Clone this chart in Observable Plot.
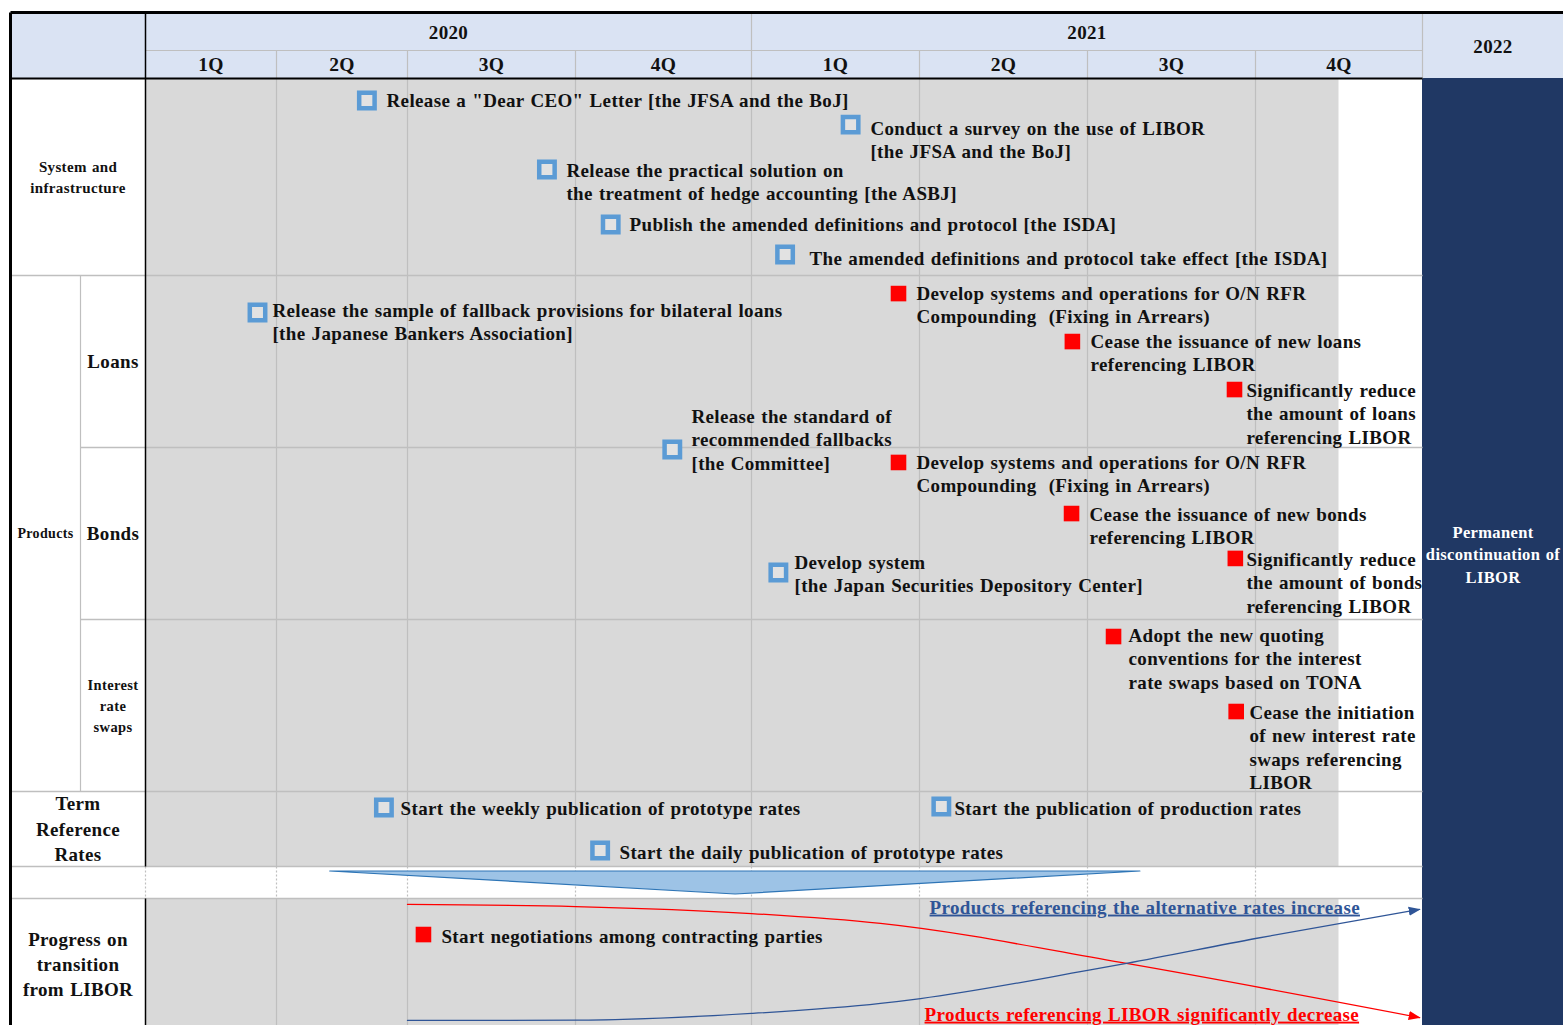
<!DOCTYPE html>
<html><head><meta charset="utf-8">
<script src="https://cdn.jsdelivr.net/npm/d3@7"></script>
<script src="https://cdn.jsdelivr.net/npm/@observablehq/plot@0.6"></script>
<style>
html,body{margin:0;padding:0;background:#fff;overflow:hidden}
#chart svg text{letter-spacing:0.35px;word-spacing:1px}
</style>
</head><body><div id="chart"></div>
<script>
// ---------------- DATA ----------------
const years = ["2020", "2021", "2022"];
const yearStartQ = [0, 4, 8];
const yearEndQ = [4, 8, 9];
const quarterLabels = ["1Q", "2Q", "3Q", "4Q", "1Q", "2Q", "3Q", "4Q"];

const rowLabels = ["System and\ninfrastructure", "Products", "Loans", "Bonds", "Interest\nrate\nswaps", "Term\nReference\nRates", "Progress on\ntransition\nfrom LIBOR"];
const finalLabel = "Permanent\ndiscontinuation of\nLIBOR";
const shadeEnd = 7.5; // shading runs to mid 4Q 2021

// events: time in quarters since 2020Q1, row position in table-row units
const eventLabels = [
  'Release a "Dear CEO" Letter [the JFSA and the BoJ]',
  "Conduct a survey on the use of LIBOR\n[the JFSA and the BoJ]",
  "Release the practical solution on\nthe treatment of hedge accounting [the ASBJ]",
  "Publish the amended definitions and protocol [the ISDA]",
  "The amended definitions and protocol take effect [the ISDA]",
  "Release the sample of fallback provisions for bilateral loans\n[the Japanese Bankers Association]",
  "Develop systems and operations for O/N RFR\nCompounding\u00a0 (Fixing in Arrears)",
  "Cease the issuance of new loans\nreferencing LIBOR",
  "Significantly reduce\nthe amount of loans\nreferencing LIBOR",
  "Release the standard of\nrecommended fallbacks\n[the Committee]",
  "Develop systems and operations for O/N RFR\nCompounding\u00a0 (Fixing in Arrears)",
  "Cease the issuance of new bonds\nreferencing LIBOR",
  "Significantly reduce\nthe amount of bonds\nreferencing LIBOR",
  "Develop system\n[the Japan Securities Depository Center]",
  "Adopt the new quoting\nconventions for the interest\nrate swaps based on TONA",
  "Cease the initiation\nof new interest rate\nswaps referencing\nLIBOR",
  "Start the weekly publication of prototype rates",
  "Start the publication of production rates",
  "Start the daily publication of prototype rates",
  "Start negotiations among contracting parties"
];
const eventSector = ["official","official","official","official","official","official","market","market","market","official","market","market","market","official","market","market","official","official","official","market"];
const eventTime  = [1.69, 4.59, 2.83, 3.20, 4.20, 0.855, 4.875, 5.91, 6.875, 3.55, 4.875, 5.905, 6.88, 4.16, 6.155, 6.885, 1.82, 5.13, 3.14, 2.095];
const eventRow   = [2.112, 2.234, 2.462, 2.741, 2.893, 3.215, 3.105, 3.384, 3.663, 4.012, 4.087, 4.384, 4.645, 4.727, 5.099, 5.535, 6.213, 6.200, 6.787, 8.273];
const labelTime  = [1.840, 4.708, 2.946, 3.307, 4.345, 0.969, 4.982, 6.018, 6.946, 3.659, 4.982, 6.012, 6.946, 4.256, 6.244, 6.964, 1.947, 5.208, 3.250, 2.202];
const labelRow   = [2.112, 2.254, 2.467, 2.741, 2.914, 3.203, 3.105, 3.384, 3.669, 3.820, 4.087, 4.390, 4.651, 4.669, 5.093, 5.541, 6.227, 6.227, 6.813, 8.288];

// transition curves
const liborTime = [2, 3, 4, 4.768, 6.232, 7.982];
const liborRow  = [8.045, 8.061, 8.114, 8.189, 8.492, 8.902];
const rfrTime   = [2, 3, 4, 4.768, 5.006, 6, 6.232, 7, 7.982];
const rfrRow    = [8.924, 8.922, 8.871, 8.795, 8.758, 8.545, 8.492, 8.303, 8.083];
const curveLabels = ["Products referencing the alternative rates increase", "Products referencing LIBOR significantly decrease"];
const curveLabelTime = [5.06, 5.03];
const curveLabelRow = [8.068, 8.879];

// funnel arrow (from term reference rates to transition)
const funnelTime = [1.41, 3.91, 6.315];
const funnelBottom = [7.156, 7.875, 7.156];
const funnelTop = [7.156, 7.156, 7.156];

// ---------------- LAYOUT ----------------
const X_DOMAIN = [-1, -0.5, 0, 1, 2, 3, 4, 5, 6, 7, 8, 9];
const X_RANGE  = [10, 80, 145, 276, 407, 575, 751, 919, 1087, 1255, 1422, 1563];
const Y_DOMAIN = [0, 1, 2, 3, 4, 5, 6, 7, 8, 9];
const Y_RANGE  = [12, 50, 78, 275, 447, 619, 791, 866, 898, 1030];
const xs = d3.scaleLinear(X_DOMAIN, X_RANGE);
const ys = d3.scaleLinear(Y_DOMAIN, Y_RANGE);
const mx = (a, b) => xs.invert((xs(a) + xs(b)) / 2);
const my = (a, b) => ys.invert((ys(a) + ys(b)) / 2);

const FONT = "'Liberation Serif', 'Times New Roman', serif";
const C = {header: "#dae3f3", shade: "#d9d9d9", navy: "#203864", grid: "#bfbfbf", blue: "#5b9bd5", red: "#ff0000", ink: "#111111", curveBlue: "#2f5597", funnel: "#9dc3e6", funnelEdge: "#2e75b6"};

// label cell spans [x1,x2,y1,y2,fontSize,lineHeight]
const rowLabelCells = [[-1,0,2,3,15,1.4],[-1,-0.5,3,6,14,1.3],[-0.5,0,3,4,19,1.3],[-0.5,0,4,5,19,1.3],[-0.5,0,5,6,14.5,1.45],[-1,0,6,7,19,1.32],[-1,0,8,9,19,1.32]];

const events = eventLabels.map((label, i) => ({label, sector: eventSector[i], t: eventTime[i], r: eventRow[i], lt: labelTime[i], lr: labelRow[i]}));
const libor = liborTime.map((t, i) => ({t, r: liborRow[i]}));
const rfr = rfrTime.map((t, i) => ({t, r: rfrRow[i]}));
const funnel = funnelTime.map((t, i) => ({t, top: funnelTop[i], bottom: funnelBottom[i]}));
const yearCells = years.map((name, i) => ({name, x: mx(yearStartQ[i], yearEndQ[i]), y: yearEndQ[i] - yearStartQ[i] > 1 ? my(0, 1) : my(0, 2)}));
const quarterCells = quarterLabels.map((name, i) => ({name, x: mx(i, i + 1), y: my(1, 2)}));
const rowLabelData = rowLabels.map((name, i) => {
  const [x1, x2, y1, y2, fs, lh] = rowLabelCells[i];
  return {name, x: mx(x1, x2), y: my(y1, y2), fs, lh};
});
const curveLabelData = curveLabels.map((name, i) => ({name, x: curveLabelTime[i], y: curveLabelRow[i], color: i === 0 ? C.curveBlue : C.red}));
const finalData = [{name: finalLabel, x: mx(8, 9), y: my(2, 9)}];

// table structure: cells and rules as {x1,x2,y1,y2}
const R = (x1, x2, y1, y2) => ({x1, x2, y1, y2});
const headerFill = [R(-1, 9, 0, 2)];
const shadeFill = [R(0, shadeEnd, 2, 7), R(0, shadeEnd, 8, 9)];
const navyFill = [R(8, 9, 2, 9)];
const vHeader = [1, 2, 3, 5, 6, 7].map(q => R(q, q, 1, 2)).concat([R(4, 4, 0, 2), R(8, 8, 0, 2)]);
const hHeader = [R(0, 8, 1, 1)];
const vBody = d3.range(1, 8).flatMap(q => [R(q, q, 2, 7), R(q, q, 8, 9)]).concat([R(-0.5, -0.5, 3, 6)]);
const vDotted = d3.range(0, 8).map(q => R(q, q, 7, 8));
const hBody = [R(-1, 8, 3, 3), R(-0.5, 8, 4, 4), R(-0.5, 8, 5, 5), R(-1, 8, 6, 6), R(-1, 8, 7, 7), R(-1, 8, 8, 8)];
const blackThin = [R(0, 0, 0, 7), R(0, 0, 8, 9)];
const blackH = [R(-1, 8, 2, 2)];
const blackThick = [R(-1, -1, 0, 9), R(-1, 9, 0, 0)];

const SVGNS = "http://www.w3.org/2000/svg";
function headMarker(color) {
  const m = document.createElementNS(SVGNS, "marker");
  m.setAttribute("viewBox", "0 -5 10 10");
  m.setAttribute("refX", "9");
  m.setAttribute("refY", "0");
  m.setAttribute("markerWidth", "12");
  m.setAttribute("markerHeight", "12");
  m.setAttribute("markerUnits", "userSpaceOnUse");
  m.setAttribute("orient", "auto");
  const p = document.createElementNS(SVGNS, "path");
  p.setAttribute("d", "M0,-3.8L10,0L0,3.8Z");
  p.setAttribute("fill", color);
  p.setAttribute("stroke", "none");
  m.appendChild(p);
  return m;
}

const seg = (data, opts) => Plot.link(data, {x1: "x1", x2: "x2", y1: "y1", y2: "y2", ...opts});
const box = (data, opts) => Plot.rect(data, {x1: "x1", x2: "x2", y1: "y1", y2: "y2", ...opts});

function build(markerEnd) {
  const tb = {fontFamily: FONT, fontWeight: "bold"};
  return Plot.plot({
    width: 1563, height: 1025,
    marginTop: 0, marginRight: 0, marginBottom: 0, marginLeft: 0,
    style: {background: "#ffffff", overflow: "hidden"},
    x: {type: "linear", domain: X_DOMAIN, range: X_RANGE, axis: null},
    y: {type: "linear", domain: Y_DOMAIN, range: Y_RANGE, axis: null},
    marks: [
      box(headerFill, {fill: C.header}),
      box(shadeFill, {fill: C.shade}),
      box(navyFill, {fill: C.navy}),
      seg(vHeader, {stroke: C.grid, strokeWidth: 1.2}),
      seg(hHeader, {stroke: C.grid, strokeWidth: 1.2}),
      seg(vBody, {stroke: C.grid, strokeWidth: 1.2}),
      seg(vDotted, {stroke: C.grid, strokeWidth: 1.2, strokeDasharray: "2,2"}),
      seg(hBody, {stroke: C.grid, strokeWidth: 1.5}),
      seg(blackThin, {stroke: "#000", strokeWidth: 1.5}),
      seg(blackH, {stroke: "#000", strokeWidth: 1.8}),
      seg(blackThick, {stroke: "#000", strokeWidth: 3}),
      // funnel arrow
      Plot.areaY(funnel, {x: "t", y1: "top", y2: "bottom", fill: C.funnel, stroke: C.funnelEdge, strokeWidth: 1.2}),
      // transition curves
      Plot.line(libor, {x: "t", y: "r", stroke: C.red, strokeWidth: 1.3, curve: "monotone-x", markerEnd: markerEnd(C.red)}),
      Plot.line(rfr, {x: "t", y: "r", stroke: C.curveBlue, strokeWidth: 1.3, curve: "monotone-x", markerEnd: markerEnd(C.curveBlue)}),
      // event markers
      Plot.dot(events.filter(d => d.sector === "official"), {x: "t", y: "r", symbol: "square", r: 8.7, fill: "#e2e2e2", stroke: C.blue, strokeWidth: 4.5}),
      Plot.dot(events.filter(d => d.sector === "market"), {x: "t", y: "r", symbol: "square", r: 8.8, fill: C.red}),
      // event labels
      Plot.text(events, {x: "lt", y: "lr", text: "label", textAnchor: "start", lineAnchor: "top", dy: -10.5, fontSize: 19, lineHeight: 1.24, fill: C.ink, ...tb}),
      // curve labels
      Plot.text(curveLabelData, {x: "x", y: "y", text: "name", textAnchor: "start", fontSize: 19, fill: "color", ...tb}),
      // header labels
      Plot.text(yearCells, {x: "x", y: "y", text: "name", dy: 1.5, fontSize: 19, fill: C.ink, ...tb}),
      Plot.text(quarterCells, {x: "x", y: "y", text: "name", dy: 0.5, fontSize: 19.5, fill: C.ink, ...tb}),
      // row labels
      ...rowLabelData.map(d => Plot.text([d], {x: "x", y: "y", text: "name", dy: -1.5, fontSize: d.fs, lineHeight: d.lh, fill: C.ink, ...tb})),
      Plot.text(finalData, {x: "x", y: "y", text: "name", dy: -1.5, fontSize: 16.5, lineHeight: 1.36, fill: "#ffffff", ...tb})
    ]
  });
}

let chart;
try {
  chart = build(c => headMarker);
} catch (e) {
  console.warn("custom marker failed", e);
  chart = build(c => "arrow");
}
chart.querySelectorAll("text").forEach(t => {
  if (curveLabels.includes(t.textContent)) t.style.textDecoration = "underline";
});
document.getElementById("chart").appendChild(chart);
</script>
</body></html>
